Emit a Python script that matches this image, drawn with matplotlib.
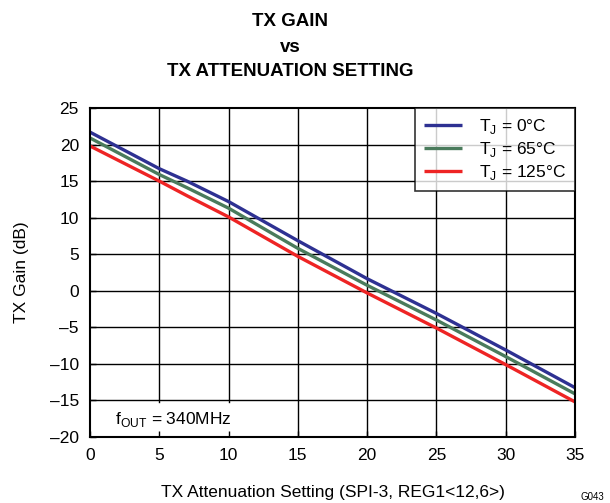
import matplotlib
matplotlib.use("Agg")
import matplotlib.pyplot as plt

plt.rcParams['font.family'] = ['Liberation Sans', 'DejaVu Sans']

# Data
atten = [0, 5, 7, 10, 15, 20, 25, 30, 35]
gain_0c = [21.7, 16.7, 15.0, 12.2, 6.85, 1.65, -3.1, -8.1, -13.25]
gain_65c = [20.9, 15.9, 14.1, 11.3, 5.8, 0.75, -4.0, -9.0, -14.1]
gain_125c = [19.8, 15.0, 13.0, 10.1, 4.7, -0.3, -5.1, -10.1, -15.2]

series_labels = [r'T$_\mathregular{J}$ = 0°C', r'T$_\mathregular{J}$ = 65°C', r'T$_\mathregular{J}$ = 125°C']
series_colors = ['#2E3192', '#4A7B5C', '#EE2424']

xticks = [0, 5, 10, 15, 20, 25, 30, 35]
yticks = [25, 20, 15, 10, 5, 0, -5, -10, -15, -20]
yticklabels = ['25', '20', '15', '10', '5', '0', '–5', '–10', '–15', '–20']

fig = plt.figure(figsize=(6.10, 5.03), dpi=100)
ax = fig.add_axes([90/610, 66/503, 485/610, 329/503])

ax.set_xlim(0, 35)
ax.set_ylim(-20, 25)
ax.set_xticks(xticks)
ax.set_yticks(yticks)
ax.set_yticklabels(yticklabels)

# grid lines; the lower-left corner is left clear for the annotation
panel_right = 12.3     # x extent of the clear annotation area
panel_top_frac = 4.85 / 45
for xv in xticks[1:-1]:
    ymin = panel_top_frac if xv < panel_right else 0
    ax.axvline(xv, ymin=ymin, ymax=1, color='black', lw=1.0, zorder=1)
for yv in yticks[1:-1]:
    ax.axhline(yv, color='black', lw=1.0, zorder=1)

for ys, lab, col in zip([gain_0c, gain_65c, gain_125c], series_labels, series_colors):
    ax.plot(atten, ys, color=col, lw=2.4, label=lab, solid_capstyle='butt', zorder=3)

ax.tick_params(direction='in', length=4, width=1, labelsize=12.5, pad=8)
for s in ax.spines.values():
    s.set_linewidth(1.5)
    s.set_zorder(4)

ax.set_xlabel('TX Attenuation Setting (SPI-3, REG1<12,6>)', fontsize=12.5, labelpad=16)
ax.set_ylabel('TX Gain (dB)', fontsize=12.5, labelpad=15)

leg = ax.legend(loc='upper right', borderaxespad=0, fontsize=12.5, frameon=True,
                fancybox=False, handlelength=2.2, handletextpad=1.0,
                labelspacing=0.25, borderpad=0.5)
leg.get_frame().set_edgecolor('black')
leg.get_frame().set_linewidth(1.2)
leg.set_zorder(5)

ax.text(1.8, -17.6, r'f$_\mathregular{OUT}$ = 340MHz', fontsize=12.5, va='center', ha='left',
        zorder=4)

fig.text(290/610, 1 - 22/503, 'TX GAIN', ha='center', va='center', fontsize=13.5, fontweight='bold')
fig.text(290/610, 1 - 47/503, 'vs', ha='center', va='center', fontsize=13.5, fontweight='bold')
fig.text(290/610, 1 - 72/503, 'TX ATTENUATION SETTING', ha='center', va='center', fontsize=13.5, fontweight='bold')
fig.text(592/610, 1 - 497/503, 'G043', ha='center', va='center', fontsize=7)

fig.savefig('out.png', dpi=100)
